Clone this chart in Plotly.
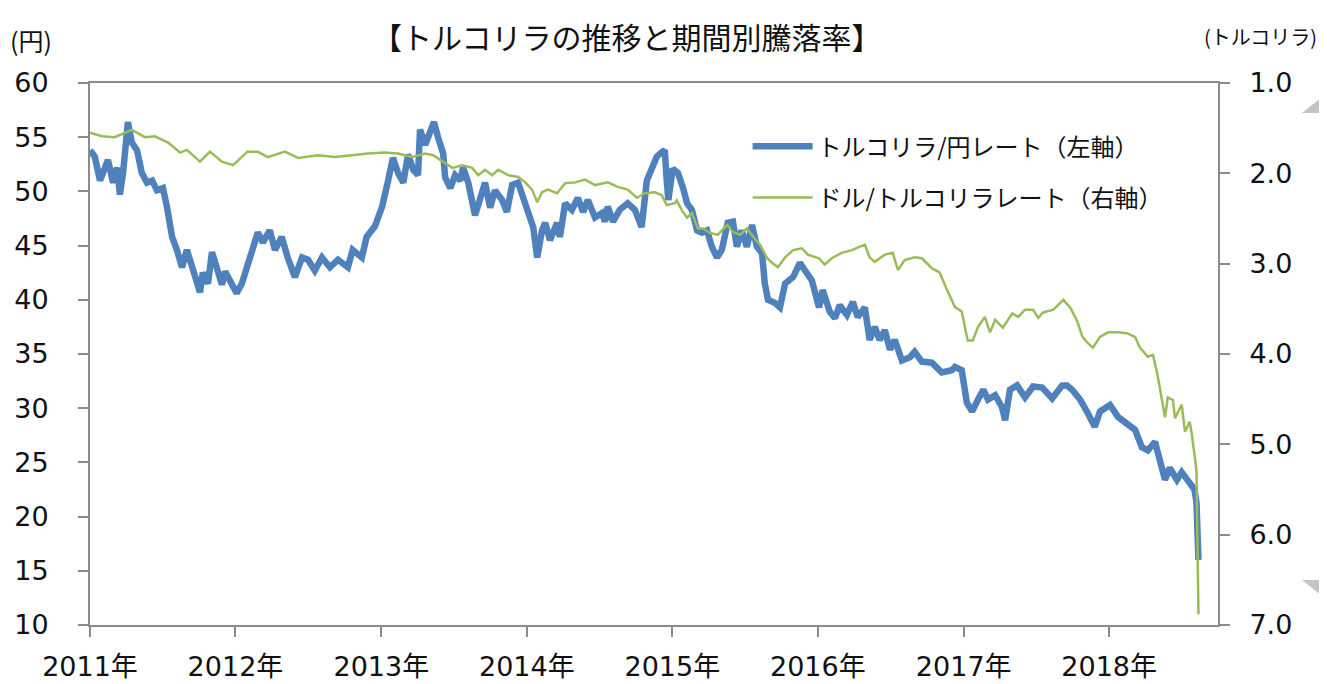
import plotly.graph_objects as go

# ---- data ----
jpy_dates = [
    "2011-01-01","2011-01-13","2011-01-26","2011-02-15","2011-02-28","2011-03-10","2011-03-17","2011-03-25",
    "2011-04-06","2011-04-16","2011-04-29","2011-05-11","2011-05-24","2011-06-06","2011-06-18","2011-07-03",
    "2011-07-13","2011-07-26","2011-08-07","2011-08-20","2011-09-01","2011-09-14","2011-10-04","2011-10-11",
    "2011-10-24","2011-11-03","2011-11-16","2011-11-28","2011-12-06","2011-12-23",
    "2012-01-04","2012-01-17","2012-02-01","2012-02-14","2012-02-26","2012-03-10","2012-03-27","2012-04-09",
    "2012-04-26","2012-05-11","2012-05-29","2012-06-16","2012-07-01","2012-07-18","2012-08-05","2012-08-25",
    "2012-09-14","2012-10-09","2012-10-21","2012-11-13","2012-11-25","2012-12-16",
    "2013-01-03","2013-01-18","2013-01-30","2013-02-12","2013-02-25","2013-03-09","2013-03-22","2013-04-03",
    "2013-04-08","2013-04-21","2013-05-03","2013-05-13","2013-05-23","2013-06-05","2013-06-10","2013-06-23",
    "2013-07-05","2013-07-18","2013-07-25","2013-08-07","2013-08-24","2013-09-06","2013-09-18","2013-10-01",
    "2013-10-13","2013-10-31","2013-11-12","2013-11-25","2013-12-10","2013-12-22",
    "2014-01-04","2014-01-17","2014-01-27","2014-02-08","2014-02-16","2014-02-28","2014-03-18","2014-03-25",
    "2014-04-07","2014-04-24","2014-05-09","2014-05-22","2014-06-03","2014-06-21","2014-07-08","2014-07-16",
    "2014-07-23","2014-08-05","2014-08-22","2014-09-11","2014-09-29","2014-10-16","2014-10-29","2014-11-10",
    "2014-11-23","2014-12-05","2014-12-13","2014-12-18","2014-12-22",
    "2015-01-02","2015-01-15","2015-01-28","2015-02-07","2015-02-19","2015-03-04","2015-03-16","2015-03-29",
    "2015-04-10","2015-04-23","2015-05-05","2015-05-20","2015-06-02","2015-06-12","2015-06-24","2015-07-07",
    "2015-07-20","2015-08-01","2015-08-14","2015-08-21","2015-08-29","2015-09-16","2015-09-28","2015-10-11",
    "2015-10-31","2015-11-17","2015-11-30","2015-12-17",
    "2016-01-04","2016-01-13","2016-01-31","2016-02-13","2016-02-25","2016-03-14","2016-03-29","2016-04-10",
    "2016-04-28","2016-05-10","2016-05-23","2016-06-04","2016-06-17","2016-06-30","2016-07-12","2016-07-30",
    "2016-08-19","2016-08-31","2016-09-18","2016-10-13","2016-11-07","2016-12-02","2016-12-10","2016-12-27",
    "2017-01-09","2017-01-22","2017-02-06","2017-02-19","2017-03-03","2017-03-21","2017-04-07","2017-04-15",
    "2017-04-27","2017-05-15","2017-06-04","2017-06-24","2017-07-17","2017-08-11","2017-09-05","2017-09-17",
    "2017-09-30","2017-10-20","2017-11-06","2017-11-26","2017-12-09",
    "2018-01-03","2018-01-23","2018-02-17","2018-03-07","2018-03-24","2018-04-08","2018-04-26","2018-05-08",
    "2018-05-21","2018-06-02","2018-06-20","2018-07-02","2018-07-17","2018-07-27","2018-08-03","2018-08-08",
    "2018-08-10","2018-08-13",
]
jpy_values = [
    53.8, 53.2, 51.0, 52.9, 50.8, 52.2, 49.7, 51.7,
    56.4, 54.5, 53.8, 51.7, 50.8, 51.0, 50.1, 50.3,
    48.6, 45.8, 44.6, 43.0, 44.6, 43.0, 40.7, 42.5,
    41.5, 44.4, 43.0, 41.4, 42.6, 41.4,
    40.6, 41.5, 43.4, 44.6, 46.2, 45.3, 46.4, 44.6,
    45.8, 43.9, 42.1, 43.9, 43.7, 42.7, 43.9, 43.0,
    43.7, 43.0, 44.6, 43.9, 45.8, 46.8,
    48.6, 51.0, 53.1, 51.7, 50.8, 53.4, 52.0, 51.5,
    55.7, 54.3, 55.5, 56.4, 55.0, 53.5, 51.3, 50.3,
    51.5, 51.0, 52.2, 50.8, 47.8, 49.5, 50.8, 48.5,
    50.1, 49.2, 48.1, 50.6, 50.8, 49.5,
    48.3, 46.7, 43.9, 46.4, 47.1, 45.5, 47.1, 45.8,
    48.9, 48.3, 49.4, 48.1, 49.2, 47.6, 48.0, 47.2,
    48.6, 47.2, 48.3, 48.9, 48.3, 46.7, 51.0, 52.2,
    53.2, 53.6, 53.8, 51.0, 49.2,
    52.1, 51.7, 50.3, 48.9, 48.3, 46.4, 46.2, 46.4,
    44.9, 43.9, 44.6, 47.1, 47.2, 44.9, 46.4, 44.9,
    46.9, 44.9, 44.3, 41.5, 40.0, 39.7, 39.3, 41.5,
    42.1, 43.4, 42.7, 41.8,
    39.3, 40.9, 38.9, 38.3, 39.5, 38.6, 39.8, 38.4,
    39.3, 36.3, 37.5, 36.3, 37.2, 35.4, 36.3, 34.4,
    34.7, 35.2, 34.3, 34.2, 33.3, 33.5, 33.8, 33.5,
    30.5, 29.7, 30.8, 31.7, 30.8, 31.2, 30.1, 28.9,
    31.7, 32.1, 31.0, 32.0, 31.9, 30.9, 32.1, 32.1,
    31.7, 30.8, 29.7, 28.3, 29.7,
    30.3, 29.2, 28.5, 28.0, 26.4, 26.1, 26.9, 25.2,
    23.4, 24.5, 23.4, 24.1, 23.4, 22.7, 22.5, 21.3,
    19.4, 16.0,
]

usd_dates = [
    "2011-01-01","2011-01-31","2011-03-04","2011-04-16","2011-05-19","2011-06-13","2011-07-16","2011-08-15",
    "2011-09-01","2011-10-04","2011-10-29","2011-11-28","2011-12-26",
    "2012-01-31","2012-02-26","2012-03-22","2012-05-04","2012-06-06","2012-07-26","2012-09-06","2012-10-19",
    "2012-11-28",
    "2013-01-10","2013-02-12","2013-03-19","2013-04-21","2013-05-11","2013-06-03","2013-06-28","2013-07-23",
    "2013-08-17","2013-09-01","2013-09-18","2013-10-06","2013-10-21","2013-11-15","2013-12-10","2013-12-28",
    "2014-01-14","2014-01-27","2014-02-08","2014-02-23","2014-03-18","2014-04-07","2014-05-02","2014-05-27",
    "2014-06-21","2014-07-23","2014-08-17","2014-09-11","2014-10-04","2014-10-24","2014-11-18","2014-12-05",
    "2014-12-18",
    "2015-01-07","2015-01-12","2015-01-25","2015-02-07","2015-02-19","2015-03-06","2015-03-19","2015-04-05",
    "2015-04-25","2015-05-18","2015-06-02","2015-06-20","2015-07-07","2015-07-22","2015-08-09","2015-08-27",
    "2015-09-08","2015-09-23","2015-10-11","2015-10-31","2015-11-22","2015-12-07",
    "2016-01-04","2016-01-18","2016-02-05","2016-03-01","2016-03-26","2016-04-28","2016-05-10","2016-05-23",
    "2016-06-17","2016-07-07","2016-07-20","2016-08-06","2016-08-31","2016-09-18","2016-10-13","2016-11-02",
    "2016-11-20","2016-12-10","2016-12-27",
    "2017-01-11","2017-01-24","2017-02-06","2017-02-23","2017-03-08","2017-03-21","2017-04-09","2017-05-03",
    "2017-05-18","2017-06-04","2017-06-24","2017-07-07","2017-07-19","2017-08-14","2017-09-08","2017-09-26",
    "2017-10-13","2017-10-26","2017-11-06","2017-11-21","2017-12-09","2017-12-29",
    "2018-01-23","2018-02-14","2018-03-07","2018-03-19","2018-04-08","2018-04-21","2018-05-03","2018-05-21",
    "2018-05-28","2018-06-10","2018-06-15","2018-07-02","2018-07-10","2018-07-22","2018-07-27","2018-08-06",
    "2018-08-08","2018-08-10","2018-08-13",
]
usd_values = [
    1.55, 1.59, 1.60, 1.52, 1.60, 1.59, 1.66, 1.77,
    1.74, 1.87, 1.76, 1.87, 1.91,
    1.76, 1.76, 1.82, 1.76, 1.83, 1.80, 1.82, 1.80,
    1.78,
    1.77, 1.78, 1.82, 1.78, 1.80, 1.87, 1.94, 1.91,
    1.94, 2.02, 1.96, 2.02, 1.96, 2.02, 2.04, 2.10,
    2.18, 2.32, 2.21, 2.18, 2.22, 2.11, 2.10, 2.07,
    2.13, 2.10, 2.15, 2.18, 2.27, 2.22, 2.21, 2.24,
    2.35,
    2.33, 2.30, 2.41, 2.49, 2.44, 2.61, 2.61, 2.66,
    2.68, 2.57, 2.65, 2.68, 2.61, 2.70, 2.79, 2.94,
    2.99, 3.04, 2.93, 2.85, 2.83, 2.90,
    2.94, 3.01, 2.94, 2.88, 2.85, 2.79, 2.93, 2.98,
    2.90, 2.88, 3.07, 2.96, 2.93, 2.94, 3.05, 3.10,
    3.29, 3.48, 3.53,
    3.85, 3.85, 3.70, 3.59, 3.76, 3.62, 3.71, 3.55,
    3.59, 3.51, 3.51, 3.60, 3.54, 3.51, 3.40, 3.49,
    3.64, 3.81, 3.87, 3.93, 3.81, 3.76,
    3.76, 3.77, 3.81, 3.93, 4.03, 4.01, 4.25, 4.70,
    4.48, 4.51, 4.71, 4.56, 4.86, 4.75, 4.88, 5.21,
    5.30, 5.95, 6.88,
]

year_ticks = ["2011-01-01","2012-01-01","2013-01-01","2014-01-01",
              "2015-01-01","2016-01-01","2017-01-01","2018-01-01"]
year_labels = ["2011年","2012年","2013年","2014年","2015年","2016年","2017年","2018年"]

series_names = ["トルコリラ/円レート（左軸）", "ドル/トルコリラレート（右軸）"]
title_text = "【トルコリラの推移と期間別騰落率】"
left_unit = "(円)"
right_unit = "(トルコリラ)"

FONT = "DejaVu Sans, Noto Sans CJK JP, sans-serif"
JFONT = "Noto Sans CJK JP, sans-serif"
AXC = "#8c8c8c"

# page body adds an 8px offset; figure sized so that it ends at the window edge
W, H = 1319, 676
ML, MT = 82, 75
PW, PH = 1128, 542

fig = go.Figure()
fig.add_trace(go.Scatter(x=jpy_dates, y=jpy_values, name=series_names[0], mode="lines",
                         line=dict(color="#4F81BD", width=6.5), legendgroup="a", yaxis="y"))
fig.add_trace(go.Scatter(x=usd_dates, y=usd_values, name=series_names[1], mode="lines",
                         line=dict(color="#9BBB59", width=2.5), legendgroup="b", yaxis="y2"))

fig.update_layout(
    width=W, height=H,
    margin=dict(l=ML, r=W - ML - PW, t=MT, b=H - MT - PH, autoexpand=False),
    paper_bgcolor="white", plot_bgcolor="white",
    font=dict(family=FONT, size=27, color="#111111"),
    showlegend=True,
    legend=dict(x=0.583, y=0.924, xanchor="left", yanchor="top",
                font=dict(family=JFONT, size=24, color="#111111"),
                bgcolor="rgba(0,0,0,0)", itemwidth=60, tracegroupgap=17),
    xaxis=dict(type="date", range=["2011-01-01", "2018-10-01"],
               tickmode="array", tickvals=year_ticks, ticktext=year_labels,
               ticks="outside", ticklen=10, tickwidth=2, tickcolor=AXC,
               showline=True, linecolor=AXC, linewidth=2, mirror=True,
               showgrid=False, zeroline=False, ticklabelstandoff=7,
               tickfont=dict(family=FONT, size=27, color="#111111")),
    yaxis=dict(range=[10, 60], dtick=5, tick0=10,
               ticks="outside", ticklen=10, tickwidth=2, tickcolor=AXC,
               showline=True, linecolor=AXC, linewidth=2,
               showgrid=False, zeroline=False, ticklabelstandoff=24,
               tickfont=dict(family=FONT, size=27, color="#111111")),
    yaxis2=dict(range=[7, 1], dtick=1, tick0=1, tickformat=".1f", overlaying="y", side="right",
                ticks="outside", ticklen=10, tickwidth=2, tickcolor=AXC,
                showline=True, linecolor=AXC, linewidth=2,
                showgrid=False, zeroline=False, ticklabelstandoff=14,
                tickfont=dict(family=FONT, size=27, color="#111111")),
)

fig.add_annotation(text=title_text, xref="paper", yref="paper", x=0.476, y=1.0, yshift=47,
                   xanchor="center", yanchor="middle", showarrow=False,
                   font=dict(family=JFONT, size=30, color="#111111"))
fig.add_annotation(text=left_unit, xref="paper", yref="paper", x=0, y=1.0, xshift=-ML, yshift=43,
                   xanchor="left", yanchor="middle", showarrow=False,
                   font=dict(family=JFONT, size=25, color="#111111"))
fig.add_annotation(text=right_unit, xref="paper", yref="paper", x=1.0, y=1.0, xshift=W - ML - PW - 8, yshift=47,
                   xanchor="right", yanchor="middle", showarrow=False,
                   font=dict(family=JFONT, size=20, color="#111111"))

# decorative double arrow at the right edge (partly outside the page); screen pixel -> paper
def px(xs):
    return (xs - 90) / PW
def py(ys):
    return (625 - ys) / PH

head_col = "#c4c4c4"
shaft_col = "#dedede"
fig.add_shape(type="rect", xref="paper", yref="paper", x0=px(1322), x1=px(1362), y0=py(580), y1=py(113),
              fillcolor=shaft_col, line=dict(width=0), layer="below")
fig.add_shape(type="path", xref="paper", yref="paper",
              path=f"M {px(1302)} {py(113)} L {px(1342)} {py(81)} L {px(1382)} {py(113)} Z",
              fillcolor=head_col, line=dict(width=0), layer="below")
fig.add_shape(type="path", xref="paper", yref="paper",
              path=f"M {px(1302)} {py(580)} L {px(1342)} {py(612)} L {px(1382)} {py(580)} Z",
              fillcolor=head_col, line=dict(width=0), layer="below")

fig.write_html("out.html")
